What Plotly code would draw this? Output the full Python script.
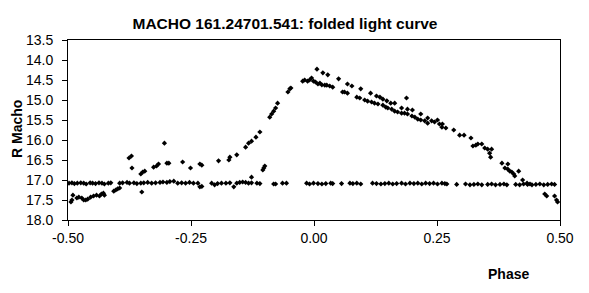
import plotly.graph_objects as go

# Baseline (constant comparison level ~17.1)
base_phase = [-0.498, -0.492, -0.487, -0.481, -0.474, -0.468, -0.463, -0.455, -0.450, -0.444,
              -0.437, -0.431, -0.426, -0.418, -0.413,
              -0.395, -0.389, -0.380, -0.375, -0.366, -0.360, -0.352, -0.346, -0.338, -0.330,
              -0.322, -0.313, -0.307, -0.299, -0.293, -0.285, -0.277, -0.269, -0.261, -0.253, -0.245,
              -0.236, -0.232, -0.228,
              -0.208, -0.202, -0.196, -0.188, -0.179, -0.171, -0.163, -0.157,
              -0.151, -0.145, -0.139, -0.133, -0.127, -0.116, -0.110,
              -0.082, -0.078, -0.064, -0.056,
              -0.015, -0.009, -0.001, 0.008, 0.016, 0.024, 0.034, 0.038, 0.056,
              0.073, 0.079, 0.087, 0.095,
              0.119, 0.127, 0.136, 0.144, 0.152, 0.160, 0.168,
              0.178, 0.186, 0.195, 0.203, 0.211, 0.219, 0.227, 0.235, 0.243, 0.251, 0.260, 0.266,
              0.270, 0.290, 0.308, 0.317, 0.325, 0.333, 0.341,
              0.353, 0.361, 0.369, 0.378, 0.386, 0.392,
              0.410, 0.418, 0.426, 0.434, 0.443, 0.451, 0.459, 0.467, 0.475, 0.483, 0.489]
base_mag = [17.08, 17.07, 17.09, 17.08, 17.07, 17.08, 17.10, 17.07, 17.08, 17.09,
            17.07, 17.08, 17.10, 17.08, 17.07,
            17.08, 17.07, 17.06, 17.08, 17.07, 17.09, 17.08, 17.07, 17.06, 17.08,
            17.07, 17.06, 17.05, 17.06, 17.04, 17.03, 17.08, 17.07, 17.08, 17.06, 17.08,
            17.08, 17.17, 17.16,
            17.08, 17.12, 17.09, 17.08, 17.08, 17.07, 17.17, 17.08,
            17.06, 17.05, 17.06, 17.08, 17.07, 17.08, 17.09,
            17.10, 17.10, 17.08, 17.08,
            17.08, 17.10, 17.08, 17.09, 17.10, 17.09, 17.08, 17.09, 17.09,
            17.08, 17.09, 17.08, 17.10,
            17.08, 17.09, 17.10, 17.09, 17.08, 17.10, 17.09,
            17.08, 17.10, 17.08, 17.09, 17.08, 17.10, 17.08, 17.09, 17.08, 17.10, 17.08, 17.09,
            17.10, 17.11, 17.10, 17.12, 17.11, 17.10, 17.12,
            17.11, 17.10, 17.12, 17.11, 17.10, 17.12,
            17.11, 17.12, 17.10, 17.11, 17.12, 17.11, 17.10, 17.12, 17.11, 17.10, 17.11]

# Variable star light curve
var_phase = [-0.494, -0.492, -0.490, -0.482, -0.478, -0.472, -0.468, -0.464, -0.460, -0.454,
             -0.448, -0.442, -0.436, -0.432, -0.428, -0.426,
             -0.407, -0.403, -0.399, -0.395,
             -0.376, -0.371, -0.370, -0.352, -0.348, -0.344, -0.350, -0.326, -0.320, -0.316,
             -0.304, -0.299, -0.295, -0.267, -0.251, -0.232, -0.228, -0.194, -0.173, -0.171,
             -0.157, -0.139, -0.133, -0.127, -0.118, -0.110, -0.127, -0.104, -0.102, -0.100,
             -0.090, -0.086, -0.082, -0.078, -0.074, -0.053, -0.049, -0.047,
             -0.023, -0.019, -0.013, -0.009, -0.005, -0.001, 0.003, 0.008, 0.006,
             0.018, 0.028, 0.050, 0.068, 0.077, 0.095, 0.115, 0.127, 0.134, 0.140, 0.148,
             0.156, 0.164, 0.188, 0.178, 0.190, 0.200, 0.217, 0.231, 0.239, 0.251, 0.261,
             0.012, 0.016, 0.022, 0.026, 0.032, 0.038, 0.058, 0.062, 0.068, 0.087, 0.093,
             0.103, 0.109, 0.117, 0.123, 0.130, 0.140, 0.146, 0.150, 0.158, 0.164, 0.170,
             0.178, 0.184, 0.190, 0.199, 0.205, 0.211, 0.217, 0.225, 0.231, 0.245, 0.255,
             0.260, 0.268, 0.284, 0.296, 0.305, 0.319, 0.323, 0.329, 0.333, 0.341, 0.347,
             0.353, 0.361, 0.357, 0.359, 0.382, 0.394, 0.388, 0.394, 0.398, 0.402, 0.406,
             0.408, 0.416, 0.424, 0.433, 0.439, 0.469, 0.473, 0.489, 0.493, 0.495]
var_mag = [17.55, 17.50, 17.38, 17.45, 17.43, 17.45, 17.50, 17.50, 17.48, 17.43,
           17.40, 17.38, 17.40, 17.35, 17.33, 17.38,
           17.28, 17.25, 17.22, 17.20,
           16.45, 16.40, 16.70, 16.85, 16.80, 16.78, 17.30, 16.68, 16.65, 16.60,
           16.08, 16.58, 16.58, 16.55, 16.70, 16.60, 16.63, 16.52, 16.50, 16.43,
           16.37, 16.18, 16.08, 16.03, 15.93, 15.80, 16.93, 16.75, 16.70, 16.65,
           15.43, 15.35, 15.28, 15.20, 15.08, 14.80, 14.72, 14.70,
           14.53, 14.50, 14.53, 14.50, 14.45, 14.53, 14.55, 14.60, 14.23,
           14.32, 14.37, 14.47, 14.60, 14.65, 14.72, 14.83, 14.90, 14.93, 14.98, 15.02,
           15.08, 15.08, 14.95, 15.20, 15.23, 15.25, 15.35, 15.45, 15.52, 15.50, 15.60,
           14.58, 14.62, 14.63, 14.63, 14.65, 14.68, 14.80, 14.80, 14.83, 14.93, 14.95,
           15.00, 15.03, 15.05, 15.08, 15.10, 15.13, 15.18, 15.20, 15.23, 15.28, 15.30,
           15.33, 15.33, 15.35, 15.40, 15.43, 15.48, 15.50, 15.52, 15.58, 15.55, 15.60,
           15.68, 15.70, 15.75, 15.88, 15.88, 15.95, 16.15, 16.13, 16.10, 16.10, 16.20,
           16.23, 16.23, 16.33, 16.43, 16.58, 16.60, 16.70, 16.73, 16.78, 16.80, 16.85,
           16.90, 16.78, 17.00, 17.08, 17.10, 17.35, 17.40, 17.40, 17.50, 17.55]

x_tickvals = [-0.5, -0.25, 0.0, 0.25, 0.5]
x_ticktext = ["-0.50", "-0.25", "0.00", "0.25", "0.50"]
y_tickvals = [13.5, 14.0, 14.5, 15.0, 15.5, 16.0, 16.5, 17.0, 17.5, 18.0]

FONT = "Liberation Sans, Arial, sans-serif"
mk = dict(symbol="diamond", size=4, color="black", line=dict(width=0))

fig = go.Figure()
fig.add_trace(go.Scatter(x=base_phase, y=base_mag, mode="markers", marker=mk, showlegend=False))
fig.add_trace(go.Scatter(x=var_phase, y=var_mag, mode="markers", marker=mk, showlegend=False))

fig.update_layout(
    width=589, height=293,
    margin=dict(l=68, r=29, t=40, b=73),
    paper_bgcolor="white", plot_bgcolor="white",
    font=dict(family=FONT, size=14, color="black"),
    title=dict(text="<b>MACHO 161.24701.541: folded light curve</b>",
               font=dict(family=FONT, size=15.5, color="black"),
               x=0.441, xref="paper", xanchor="center",
               y=1 - 24 / 293, yref="container", yanchor="middle"),
    showlegend=False,
)
fig.update_xaxes(range=[-0.5, 0.5], tickvals=x_tickvals, ticktext=x_ticktext,
                 showgrid=False, zeroline=False, showline=True, linecolor="black",
                 linewidth=1, mirror=True, ticks="outside", ticklen=5, tickcolor="black",
                 tickfont=dict(family=FONT, size=14, color="black"))
fig.update_yaxes(range=[18.0, 13.5], tickvals=y_tickvals, tickformat=".1f",
                 showgrid=False, zeroline=False, showline=True, linecolor="black",
                 linewidth=1, mirror=True, ticks="outside", ticklen=5, tickcolor="black",
                 ticklabelstandoff=6,
                 tickfont=dict(family=FONT, size=14, color="black"))

fig.add_annotation(text="<b>R Macho</b>", xref="paper", yref="paper",
                   x=(17 - 68) / 492, y=(220 - 129) / 180, textangle=-90,
                   showarrow=False, xanchor="center", yanchor="middle",
                   font=dict(family=FONT, size=14, color="black"))
fig.add_annotation(text="<b>Phase</b>", xref="paper", yref="paper",
                   x=(508 - 68) / 492, y=(220 - 274) / 180,
                   showarrow=False, xanchor="center", yanchor="middle",
                   font=dict(family=FONT, size=14, color="black"))

fig.write_html("out.html")
